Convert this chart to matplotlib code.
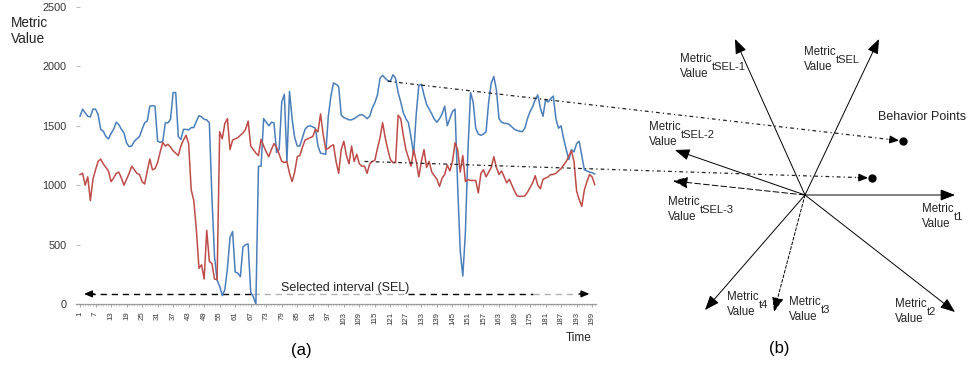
import matplotlib
matplotlib.use('Agg')
import matplotlib.pyplot as plt
import numpy as np

plt.rcParams['font.family'] = ['Liberation Sans', 'DejaVu Sans']

# ---------------- data (panel a) ----------------
time = list(range(1, 201))
metric_blue = [
    1580, 1640, 1610, 1580, 1575, 1640, 1640, 1595, 1470, 1455,
    1410, 1390, 1435, 1470, 1530, 1510, 1470, 1440, 1355, 1325,
    1330, 1370, 1390, 1410, 1470, 1525, 1540, 1665, 1670, 1665,
    1370, 1360, 1370, 1525, 1525, 1555, 1780, 1780, 1410, 1385,
    1470, 1470, 1465, 1485, 1485, 1540, 1585, 1575, 1555, 1550,
    1525, 900, 400, 200, 150, 70, 120, 300, 560, 610,
    270, 260, 230, 480, 500, 505, 100, 60, 0, 1160,
    1160, 1560, 1530, 1500, 1530, 1525, 1275, 1300, 1700, 1765,
    1200, 1790, 1560, 1400, 1330, 1330, 1400, 1470, 1495, 1500,
    1490, 1480, 1330, 1270, 1265, 1260, 1580, 1750, 1860, 1850,
    1830, 1590, 1570, 1560, 1550, 1550, 1560, 1575, 1590, 1595,
    1580, 1560, 1580, 1650, 1695, 1760, 1900, 1925, 1900, 1880,
    1875, 1930, 1900, 1780, 1700, 1610, 1560, 1525, 1400, 1260,
    1600, 1840, 1850, 1760, 1680, 1640, 1600, 1555, 1530, 1560,
    1600, 1665, 1500, 1560, 1620, 1640, 1000, 450, 235, 600,
    1300, 1780, 1700, 1480, 1430, 1420, 1430, 1450, 1700, 1860,
    1915, 1800, 1560, 1530, 1520, 1520, 1510, 1490, 1470, 1460,
    1455, 1450, 1480, 1560, 1620, 1660, 1720, 1760, 1650, 1580,
    1720, 1700, 1730, 1750, 1560, 1480, 1500, 1390, 1300, 1216,
    1300, 1280, 1350, 1370, 1250, 1130, 1120, 1110, 1105, 1095,
]
metric_red = [
    1090, 1100, 1000, 1070, 870, 1050, 1130, 1200, 1220, 1180,
    1150, 1120, 1030, 1060, 1100, 1110, 1060, 1000, 1050, 1100,
    1160, 1130, 1100, 1090, 1030, 1010, 1120, 1220, 1130, 1140,
    1190, 1280, 1360, 1330, 1345, 1320, 1290, 1270, 1250, 1330,
    1380, 1420, 1350, 960, 870, 620, 300, 330, 210, 620,
    360, 340, 210, 205, 1450, 1390, 1520, 1560, 1300, 1380,
    1390, 1400, 1420, 1440, 1470, 1540, 1330, 1300, 1270, 1250,
    1385, 1330, 1280, 1240, 1300, 1350, 1320, 1260, 1200, 1190,
    1200, 1100, 1030, 1110, 1240, 1250, 1320, 1380, 1390, 1400,
    1410, 1470, 1450, 1600, 1430, 1300, 1310, 1330, 1340, 1200,
    1100, 1300, 1370, 1250, 1180, 1330, 1200, 1260, 1180, 1160,
    1160, 1100, 1180, 1200, 1210, 1310, 1400, 1526, 1400, 1300,
    1216, 1190, 1190, 1590, 1560, 1420, 1300, 1230, 1160, 1300,
    1200, 1070, 1200, 1300, 1150, 1200, 1110, 1080, 1050, 990,
    1060, 1090, 1170, 1120, 1200, 1357, 1300, 1110, 1250, 1030,
    1047, 1040, 1040, 1040, 935, 1100, 1130, 1070, 1110, 1150,
    1240, 1150, 1090, 1120, 1070, 1020, 1050, 1000, 950, 910,
    906, 906, 910, 940, 980, 1020, 1080, 1000, 970, 1050,
    1060, 1070, 1090, 1090, 1100, 1120, 1140, 1170, 1200, 1244,
    1290, 1200, 950, 880, 822, 960, 1030, 1090, 1070, 1005,
]
y_ticks = [0, 500, 1000, 1500, 2000, 2500]
x_ticks = list(range(1, 200, 6))

# selected interval and anchors of the projection lines (panel a data space)
sel_interval = (2.5, 198)
sel_level = 85
anchor_blue = (120, 1875)
anchor_red = (111, 1200)

# ---------------- panel b (schematic) ----------------
diagram_center = (805, 195)
diagram_axes = [  # (subscript, arrow tip, line style, label x, label baseline)
    ('tSEL', (879, 39), '-', 804, 55),
    ('tSEL-1', (735, 39), '-', 680, 62),
    ('tSEL-2', (675, 150), '-', 649, 130),
    ('tSEL-3', (673, 181), (0, (6, 3)), 668, 205),
    ('t1', (955, 195), '-', 922, 212),
    ('t2', (955, 312), '-', 895, 307),
    ('t3', (774, 312), (0, (3, 2)), 789, 305),
    ('t4', (705, 310), '-', 727, 300),
]
behavior_points = [(903, 141), (872, 178)]

BLUE = '#4a7ebb'
RED = '#be4b48'

fig = plt.figure(figsize=(9.73, 3.65), dpi=100)
W, H = 973, 365

ax = fig.add_axes([76 / W, 1 - 304 / H, 520 / W, 297 / H])
ax.plot(time, metric_blue, color=BLUE, lw=1.1, zorder=3)
ax.plot(time, metric_red, color=RED, lw=1.1, zorder=3)
ax.set_xlim(-0.55, 200.5)
ax.set_ylim(0, 2500)
for s in ['top', 'right', 'left']:
    ax.spines[s].set_visible(False)
ax.spines['bottom'].set_color('#9a9a9a')
ax.spines['bottom'].set_linewidth(0.9)
ax.set_yticks(y_ticks)
ax.set_yticklabels([str(v) for v in y_ticks], fontsize=7.8, color='#333333')
ax.tick_params(axis='y', direction='in', length=3, pad=7, color='#bbbbbb')
ax.set_xticks(x_ticks)
ax.set_xticklabels([str(v) for v in x_ticks], rotation=90, fontsize=5.6, color='#333333')
ax.set_xticks(time, minor=True)
ax.tick_params(axis='x', which='major', direction='out', length=2.5, pad=3, color='#aaaaaa')
ax.tick_params(axis='x', which='minor', direction='out', length=1.5, color='#cccccc')
ax.patch.set_visible(False)

# selected interval dashed double arrow
segs = [(sel_interval[0] + 2, 68, 'k'), (68, 128, '#b0b0b0'), (128, 176, 'k'), (176, sel_interval[1] - 2, '#b0b0b0')]
for a, b, c in segs:
    ax.plot([a, b], [sel_level, sel_level], color=c, lw=1.0, linestyle=(0, (4.5, 3.5)), zorder=2)
ax.annotate('', xy=(sel_interval[0], sel_level), xytext=(sel_interval[0] + 4, sel_level),
            arrowprops=dict(arrowstyle='-|>,head_length=0.6,head_width=0.25', color='k', lw=1, mutation_scale=8,
                            shrinkA=0, shrinkB=0))
ax.annotate('', xy=(sel_interval[1], sel_level), xytext=(sel_interval[1] - 4, sel_level),
            arrowprops=dict(arrowstyle='-|>,head_length=0.6,head_width=0.25', color='k', lw=1, mutation_scale=8,
                            shrinkA=0, shrinkB=0))
ax.text(103.5, 110, 'Selected interval (SEL)', ha='center', va='baseline', fontsize=9, color='#222222')

# overlay in pixel coordinates
ov = fig.add_axes([0, 0, 1, 1])
ov.set_xlim(0, W)
ov.set_ylim(H, 0)
ov.axis('off')
ov.patch.set_visible(False)


def to_px(t, v):
    d = ax.transData.transform((t, v))
    return ov.transData.inverted().transform(d)


ov.text(11, 23, 'Metric', va='center', ha='left', fontsize=9.8, color='#222222')
ov.text(11, 39, 'Value', va='center', ha='left', fontsize=9.8, color='#222222')
ov.text(592, 338, 'Time', ha='right', va='center', fontsize=8.5, color='#222222')
ov.text(301, 350, '(a)', ha='center', va='center', fontsize=12)
ov.text(779, 348, '(b)', ha='center', va='center', fontsize=12)

# projection lines to behavior points
for anchor, pt in zip([anchor_blue, anchor_red], behavior_points):
    sx, sy = to_px(*anchor)
    ex, ey = pt
    dx, dy = ex - sx, ey - sy
    L = np.hypot(dx, dy)
    ux, uy = dx / L, dy / L
    tip = (ex - 4 * ux, ey - 4 * uy)
    mid = (ex - 14 * ux, ey - 14 * uy)
    ov.plot([sx, mid[0]], [sy, mid[1]], color='#222222', lw=0.9, linestyle=(0, (3, 2.5, 1, 2.5)), zorder=5)
    ov.annotate('', xy=tip, xytext=mid,
                arrowprops=dict(arrowstyle='-|>,head_length=0.7,head_width=0.3', color='k', lw=0.8,
                                mutation_scale=8, shrinkA=0, shrinkB=0))
    ov.plot([ex], [ey], 'o', color='k', markersize=5, zorder=6)

ov.text(878, 117, 'Behavior Points', va='center', ha='left', fontsize=9, color='#222222')

# axes of panel b
for sub, tipc, ls, lx, ly in diagram_axes:
    ov.annotate('', xy=tipc, xytext=diagram_center,
                arrowprops=dict(arrowstyle='-|>,head_length=0.9,head_width=0.35', color='k', lw=0.7,
                                linestyle=ls, mutation_scale=10, shrinkA=0, shrinkB=0))
    t = ov.text(lx, ly, 'Metric', va='baseline', ha='left', fontsize=8.3, color='#222222')
    ov.annotate(sub, xy=(1, 0), xycoords=t, xytext=(0.3, -5), textcoords='offset points',
                va='bottom', ha='left', fontsize=8, color='#222222')
    ov.text(lx, ly + 15, 'Value', va='baseline', ha='left', fontsize=8.3, color='#222222')

fig.savefig('out.png', dpi=100)
